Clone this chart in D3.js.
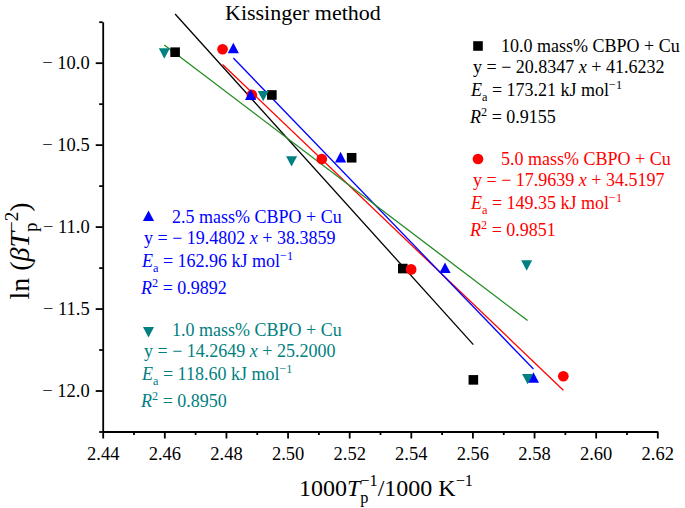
<!DOCTYPE html>
<html>
<head>
<meta charset="utf-8">
<script src="https://cdn.jsdelivr.net/npm/d3@7"></script>
<style>
  body { margin: 0; background: #fff; }
  svg { font-family: "Liberation Serif", "Times New Roman", serif; }
</style>
</head>
<body>
<div id="chart"></div>
<script>
// tick labels
const xTicks = [2.44, 2.46, 2.48, 2.50, 2.52, 2.54, 2.56, 2.58, 2.60, 2.62];
const yTicks = [-10.0, -10.5, -11.0, -11.5, -12.0];

// series (x = 1000/Tp, y = ln(beta/Tp^2))
const x10 = [2.4635, 2.4949, 2.5208, 2.5374, 2.5603];
const y10 = [-9.936, -10.197, -10.580, -11.256, -11.935];
const x50 = [2.4789, 2.4884, 2.5111, 2.5401, 2.5895];
const y50 = [-9.918, -10.197, -10.588, -11.261, -11.913];
const x25 = [2.4824, 2.4880, 2.5172, 2.5511, 2.5798];
const y25 = [-9.912, -10.197, -10.578, -11.253, -11.922];
const x01 = [2.4600, 2.4921, 2.5013, 2.5776, 2.5779];
const y01 = [-9.943, -10.203, -10.601, -11.236, -11.929];

// fits
const names = ["10.0 mass% CBPO + Cu", "5.0 mass% CBPO + Cu", "2.5 mass% CBPO + Cu", "1.0 mass% CBPO + Cu"];
const slopes = [-20.8347, -17.9639, -19.4802, -14.2649];
const intercepts = [41.6232, 34.5197, 38.3859, 25.2000];
const eaValues = ["173.21", "149.35", "162.96", "118.60"];
const r2Values = ["0.9155", "0.9851", "0.9892", "0.8950"];

const series = [
  {xs: x10, ys: y10, shape: "square", color: "#000000", line: "#000000", legend: [478, 46], lx: 471, tx: 501, base: 52},
  {xs: x50, ys: y50, shape: "circle", color: "#ff0000", line: "#ff0000", legend: [478, 159], lx: 471, tx: 501, base: 165},
  {xs: x25, ys: y25, shape: "up", color: "#0000ff", line: "#0000ff", legend: [148.5, 216], lx: 142, tx: 172, base: 223},
  {xs: x01, ys: y01, shape: "down", color: "#008080", line: "#228b22", legend: [148.5, 332], lx: 142, tx: 172, base: 336}
];

const width = 685, height = 508;
const svg = d3.select("#chart").append("svg")
  .attr("width", width).attr("height", height);

const x = d3.scaleLinear().domain([2.44, 2.62]).range([102.7, 657.3]);
const y = d3.scaleLinear().domain([-12.25, -9.75]).range([431.5, 21.7]);

const xMinor = xTicks.slice(1).map((v, i) => (v + xTicks[i]) / 2);
const yMinor = [-9.75].concat(yTicks.map(v => v - 0.25));

function styleAxis(g, fs) {
  g.attr("font-family", null).attr("font-size", fs);
  g.selectAll("line").attr("stroke", "#000").attr("stroke-width", 1.8);
  g.selectAll("path").attr("stroke", "#000").attr("stroke-width", 1.8);
  g.selectAll("text").attr("fill", "#000");
}

// minor ticks
svg.append("g").attr("transform", `translate(0,${y.range()[0]})`)
  .call(d3.axisBottom(x).tickValues(xMinor).tickSize(3.5).tickSizeOuter(0).tickFormat(""))
  .call(g => { styleAxis(g, 18); g.select(".domain").remove(); });
svg.append("g").attr("transform", `translate(${x.range()[0]},0)`)
  .call(d3.axisLeft(y).tickValues(yMinor).tickSize(3.5).tickSizeOuter(0).tickFormat(""))
  .call(g => { styleAxis(g, 18); g.select(".domain").remove(); });

// major ticks + labels
svg.append("g").attr("transform", `translate(0,${y.range()[0]})`)
  .call(d3.axisBottom(x).tickValues(xTicks).tickSize(7).tickSizeOuter(0).tickPadding(8).tickFormat(d3.format(".2f")))
  .call(g => styleAxis(g, 18.5));
svg.append("g").attr("transform", `translate(${x.range()[0]},0)`)
  .call(d3.axisLeft(y).tickValues(yTicks).tickSize(7).tickSizeOuter(0).tickPadding(6)
    .tickFormat(d => "\u2212 " + Math.abs(d).toFixed(1)))
  .call(g => styleAxis(g, 18.5));

// rich text helper: segments with italic / sub / sup / stacked sub+sup
function rich(text, segs, size) {
  let shift = 0, pending = 0;
  const small = size * 0.68, down = size * 0.28, up = -size * 0.4;
  segs.forEach(sg => {
    if (sg.s === "stack") {
      const a = text.append("tspan").text(sg.t).attr("font-size", small).attr("dy", down - shift);
      if (pending) { a.attr("dx", pending); pending = 0; }
      const wa = a.node().getComputedTextLength();
      const b = text.append("tspan").text(sg.sup).attr("font-size", small)
        .attr("dx", -wa).attr("dy", up - down);
      shift = up;
      const wb = b.node().getComputedTextLength();
      if (wa > wb) pending = wa - wb;
      return;
    }
    const target = sg.s === "sub" ? down : sg.s === "sup" ? up : 0;
    const ts = text.append("tspan").text(sg.t).attr("dy", target - shift);
    shift = target;
    if (sg.s) ts.attr("font-size", small);
    if (sg.i) ts.attr("font-style", "italic");
    if (pending) { ts.attr("dx", pending); pending = 0; }
  });
  return text;
}

// fit lines
series.forEach((s, i) => {
  const ext = d3.extent(s.xs);
  svg.append("line")
    .attr("x1", x(ext[0])).attr("y1", y(slopes[i] * ext[0] + intercepts[i]))
    .attr("x2", x(ext[1])).attr("y2", y(slopes[i] * ext[1] + intercepts[i]))
    .attr("stroke", s.line).attr("stroke-width", 1.3);
});

function markerPath(shape) {
  if (shape === "square") return "M-4.8,-4.8H4.8V4.8H-4.8Z";
  if (shape === "up") return "M0,-5.6L5.6,5H-5.6Z";
  if (shape === "down") return "M0,5.4L5.5,-5H-5.5Z";
  return d3.symbol(d3.symbolCircle, 90)();
}

// points
series.forEach(s => {
  svg.append("g").selectAll("path")
    .data(s.xs.map((v, j) => [v, s.ys[j]]))
    .join("path")
    .attr("transform", d => `translate(${x(d[0])},${y(d[1])})`)
    .attr("d", markerPath(s.shape))
    .attr("fill", s.color);
});

// legend blocks
const fs = 18;
series.forEach((s, i) => {
  const g = svg.append("g").attr("fill", s.color).attr("font-size", fs);
  g.append("path").attr("transform", `translate(${s.legend[0]},${s.legend[1]})`)
    .attr("d", markerPath(s.shape)).attr("fill", s.color);
  g.append("text").attr("x", s.tx).attr("y", s.base).text(names[i]);
  rich(g.append("text").attr("x", s.lx + 2).attr("y", s.base + 21),
    [{t: "y = \u2212 " + Math.abs(slopes[i]).toFixed(4) + " "}, {t: "x", i: true},
     {t: " + " + intercepts[i].toFixed(4)}], fs);
  rich(g.append("text").attr("x", s.lx).attr("y", s.base + 44),
    [{t: "E", i: true}, {t: "a", s: "sub"}, {t: " = " + eaValues[i] + " kJ mol"}, {t: "\u22121", s: "sup"}], fs);
  rich(g.append("text").attr("x", s.lx - 1).attr("y", s.base + 71),
    [{t: "R", i: true}, {t: "2", s: "sup"}, {t: " = " + r2Values[i]}], fs);
});

// title
svg.append("text").attr("x", 225).attr("y", 20).attr("font-size", 22).attr("fill", "#000")
  .text("Kissinger method");

// axis titles
rich(svg.append("text").attr("x", 386).attr("y", 496).attr("text-anchor", "middle")
  .attr("font-size", 24).attr("fill", "#000"),
  [{t: "1000"}, {t: "T", i: true}, {s: "stack", t: "p", sup: "\u22121"}, {t: "/1000 K"}, {t: "\u22121", s: "sup"}], 24);

rich(svg.append("text").attr("transform", "translate(29,251) rotate(-90)").attr("text-anchor", "middle")
  .attr("font-size", 28).attr("fill", "#000"),
  [{t: "ln ("}, {t: "\u03b2T", i: true}, {s: "stack", t: "p", sup: "\u22122"}, {t: ")"}], 28);
</script>
</body>
</html>
